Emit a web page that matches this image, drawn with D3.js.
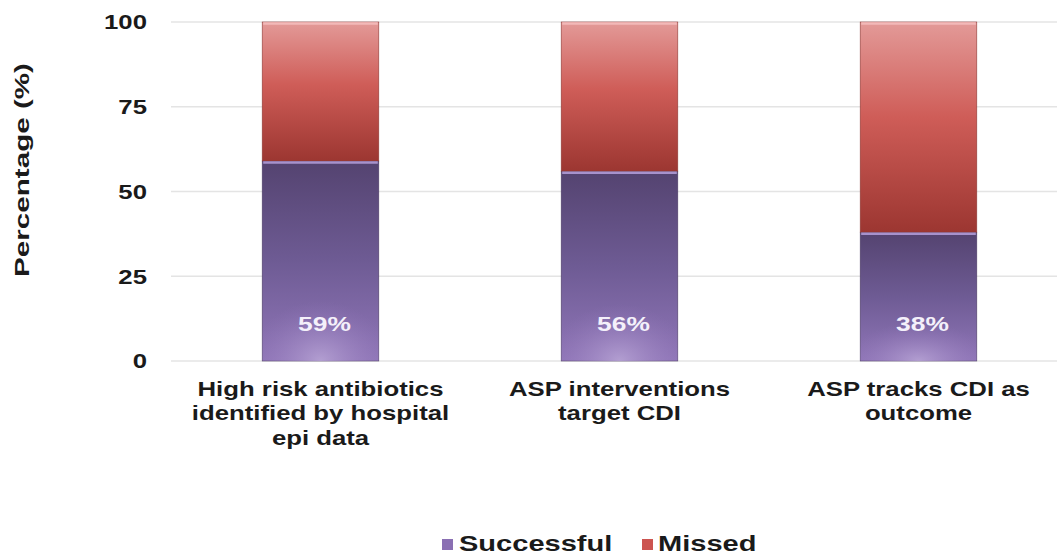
<!DOCTYPE html>
<html>
<head>
<meta charset="utf-8">
<script src="https://cdn.jsdelivr.net/npm/d3@7"></script>
<style>
  html, body { margin: 0; padding: 0; background: #fff; }
  svg { display: block; font-family: "Liberation Sans", Arial, sans-serif; }
</style>
</head>
<body>
<svg id="chart" width="1057" height="558"></svg>
<script>
// Survey items and their shares
const categories = [
  ["High risk antibiotics", "identified by hospital", "epi data"],
  ["ASP interventions", "target CDI"],
  ["ASP tracks CDI as", "outcome"]
];
const successful = [59, 56, 38];
const missed = successful.map(v => 100 - v);
const seriesNames = ["Successful", "Missed"];
const yTicks = [0, 25, 50, 75, 100];

const svg = d3.select("#chart");
const width = 1057, height = 558;
const margin = { left: 171, right: -11, top: 22, bottom: 197 };
const stretch = 1.32;   // wide lettering used throughout
const ink = "#1a1a1a";

const rows = categories.map((c, i) => ({ key: i, Successful: successful[i], Missed: missed[i] }));
const stacked = d3.stack().keys(seriesNames)(rows);

const x = d3.scaleBand()
  .domain(rows.map(r => r.key))
  .range([margin.left, width - margin.right])
  .paddingInner(0.61)
  .paddingOuter(0.305);

const y = d3.scaleLinear()
  .domain([0, 100])
  .range([height - margin.bottom, margin.top]);

// Gradients for the bar segments
const defs = svg.append("defs");
const purpleLin = defs.append("linearGradient").attr("id", "gPurple")
  .attr("x1", 0).attr("y1", 0).attr("x2", 0).attr("y2", 1);
purpleLin.append("stop").attr("offset", "0%").attr("stop-color", "#544370");
purpleLin.append("stop").attr("offset", "50%").attr("stop-color", "#6e5b94");
purpleLin.append("stop").attr("offset", "100%").attr("stop-color", "#9076b8");

const purpleGlow = defs.append("radialGradient").attr("id", "gPurpleGlow")
  .attr("cx", 0.5).attr("cy", 1).attr("r", 0.6)
  .attr("gradientTransform", "translate(0.5,1) scale(1,0.5) translate(-0.5,-1)");
purpleGlow.append("stop").attr("offset", "0%").attr("stop-color", "#b9a6d6").attr("stop-opacity", 0.85);
purpleGlow.append("stop").attr("offset", "100%").attr("stop-color", "#9479bb").attr("stop-opacity", 0);

const redLin = defs.append("linearGradient").attr("id", "gRed")
  .attr("x1", 0).attr("y1", 0).attr("x2", 0).attr("y2", 1);
redLin.append("stop").attr("offset", "0%").attr("stop-color", "#e39a98");
redLin.append("stop").attr("offset", "45%").attr("stop-color", "#cf5d58");
redLin.append("stop").attr("offset", "100%").attr("stop-color", "#9c3631");

// Gridlines
svg.append("g")
  .selectAll("line")
  .data(yTicks)
  .join("line")
  .attr("x1", margin.left)
  .attr("x2", width)
  .attr("y1", d => y(d))
  .attr("y2", d => y(d))
  .attr("stroke", "#e4e4e4")
  .attr("stroke-width", 1.5);

// Y axis labels
const yAxis = d3.axisLeft(y).tickValues(yTicks).tickSize(0).tickPadding(0);
const yG = svg.append("g")
  .attr("transform", `translate(${margin.left - 24},0)`)
  .call(yAxis);
yG.select(".domain").remove();
yG.selectAll(".tick text")
  .attr("x", 0)
  .attr("dy", "0.35em")
  .attr("transform", `scale(${stretch},1)`)
  .attr("font-size", 19.5)
  .attr("font-weight", "bold")
  .attr("fill", ink)
  .attr("font-family", "'Liberation Sans', Arial, sans-serif");

// Y axis title
svg.append("text")
  .attr("transform", `translate(29,170) rotate(-90) scale(1.41,1)`)
  .attr("text-anchor", "middle")
  .attr("font-size", 21)
  .attr("font-weight", "bold")
  .attr("fill", ink)
  .text("Percentage (%)");

// Bars
const fills = { Successful: "url(#gPurple)", Missed: "url(#gRed)" };
const layer = svg.append("g").selectAll("g")
  .data(stacked)
  .join("g");

layer.selectAll("rect.seg")
  .data(s => s.map(d => ({ key: s.key, d })))
  .join("rect")
  .attr("class", "seg")
  .attr("x", o => x(o.d.data.key))
  .attr("width", x.bandwidth())
  .attr("y", o => y(o.d[1]))
  .attr("height", o => y(o.d[0]) - y(o.d[1]))
  .attr("fill", o => fills[o.key])
  .attr("stroke", o => o.key === "Successful" ? "#4d3d66" : "#8f3b38")
  .attr("stroke-width", 0.6);

// Soft glow at the foot of the purple segments
svg.append("g").selectAll("rect")
  .data(stacked[0])
  .join("rect")
  .attr("x", d => x(d.data.key))
  .attr("width", x.bandwidth())
  .attr("y", d => y(d[1]))
  .attr("height", d => y(d[0]) - y(d[1]))
  .attr("fill", "url(#gPurpleGlow)");

// Highlight line along the top of each segment
stacked.forEach(s => {
  svg.append("g").selectAll("line")
    .data(s)
    .join("line")
    .attr("x1", d => x(d.data.key) + 1)
    .attr("x2", d => x(d.data.key) + x.bandwidth() - 1)
    .attr("y1", d => y(d[1]) + 1.5)
    .attr("y2", d => y(d[1]) + 1.5)
    .attr("stroke", s.key === "Successful" ? "#a792cc" : "#f2b9b8")
    .attr("stroke-width", 2.5);
});

// Value labels
svg.append("g").selectAll("text")
  .data(rows)
  .join("text")
  .attr("transform", d => `translate(${x(d.key) + x.bandwidth() / 2 + 4},${y(0) - 30}) scale(${stretch},1)`)
  .attr("text-anchor", "middle")
  .attr("font-size", 20)
  .attr("font-weight", "bold")
  .attr("fill", "#f4f0fa")
  .text(d => d.Successful + "%");

// Category labels
const catG = svg.append("g").selectAll("text")
  .data(rows)
  .join("text")
  .attr("transform", d => `translate(${x(d.key) + x.bandwidth() / 2},396) scale(${stretch},1)`)
  .attr("text-anchor", "middle")
  .attr("font-size", 19.5)
  .attr("font-weight", "bold")
  .attr("fill", ink);
catG.selectAll("tspan")
  .data(d => categories[d.key])
  .join("tspan")
  .attr("x", 0)
  .attr("y", (d, i) => i * 24.5)
  .text(d => d);

// Legend
const legendColors = { Successful: "#8a6fb3", Missed: "#cc5450" };
const legendPos = [{ name: "Successful", sx: 442, tx: 459 }, { name: "Missed", sx: 642, tx: 658 }];
const lg = svg.append("g");
lg.selectAll("rect")
  .data(legendPos)
  .join("rect")
  .attr("x", d => d.sx)
  .attr("y", 539)
  .attr("width", 11)
  .attr("height", 11)
  .attr("fill", d => legendColors[d.name]);
lg.selectAll("text")
  .data(legendPos)
  .join("text")
  .attr("transform", d => `translate(${d.tx},551) scale(${stretch},1)`)
  .attr("font-size", 22)
  .attr("font-weight", "bold")
  .attr("fill", ink)
  .text(d => d.name);
</script>
</body>
</html>
